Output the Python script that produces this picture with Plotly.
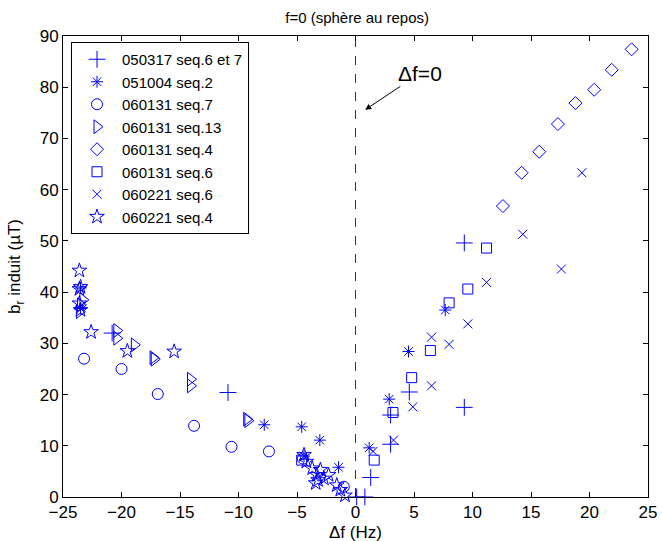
import plotly.graph_objects as go

names = ["050317 seq.6 et 7", "051004 seq.2", "060131 seq.7", "060131 seq.13",
         "060131 seq.4", "060131 seq.6", "060221 seq.6", "060221 seq.4"]

plus_x = [-20.8, -10.9, 0.1, 0.8, 1.3, 3.0, 3.0, 4.6, 9.3, 9.3]
plus_y = [32.0, 20.4, 0.0, 0.0, 3.8, 10.3, 16.0, 20.5, 49.6, 17.5]

ast_x = [-23.5, -23.5, -7.8, -4.6, -4.4, -3.05, -1.45, 1.17, 2.88, 4.53, 7.67]
ast_y = [40.8, 36.8, 14.1, 13.7, 8.0, 11.1, 5.8, 9.6, 19.1, 28.4, 36.5]

circ_x = [-23.2, -20.0, -16.9, -13.8, -10.6, -7.4, -4.5, -1.0]
circ_y = [27.0, 25.0, 20.1, 13.9, 9.8, 8.9, 7.5, 2.0]

tri_x = [-23.6, -23.5, -23.3, -20.4, -20.4, -18.9, -17.3, -17.2, -14.1, -14.1, -9.3, -9.2]
tri_y = [36.2, 37.5, 38.5, 32.5, 31.0, 29.7, 27.2, 26.9, 23.0, 21.7, 15.2, 14.9]

dia_x = [12.6, 14.2, 15.7, 17.3, 18.8, 20.4, 21.9, 23.6]
dia_y = [56.8, 63.3, 67.4, 72.8, 76.9, 79.5, 83.4, 87.4]

sq_x = [-4.6, 1.6, 3.2, 4.8, 6.4, 8.0, 9.6, 11.2]
sq_y = [7.2, 7.2, 16.5, 23.3, 28.6, 37.9, 40.6, 48.6]

xm_x = [1.5, 3.25, 4.9, 6.5, 6.5, 8.0, 9.6, 11.2, 14.3, 17.6, 19.35]
xm_y = [8.9, 11.1, 17.6, 21.7, 31.2, 29.8, 33.8, 41.9, 51.3, 44.5, 63.3]

star_x = [-23.6, -23.6, -23.5, -23.6, -23.5, -22.6, -19.5, -15.5, -4.4, -4.2, -3.7,
          -3.4, -3.3, -3.2, -3.0, -2.7, -2.3, -1.6, -1.3, -0.9]
star_y = [44.2, 40.6, 41.0, 37.8, 36.5, 32.2, 28.5, 28.4, 8.2, 6.9, 5.6,
          2.7, 4.3, 3.3, 5.3, 3.6, 4.3, 2.3, 1.4, 0.3]

series = [
    (plus_x, plus_y, "cross-thin-open", 12),
    (ast_x, ast_y, "asterisk-open", 10),
    (circ_x, circ_y, "circle-open", 11),
    (tri_x, tri_y, "triangle-right-open", 12),
    (dia_x, dia_y, "diamond-open", 10),
    (sq_x, sq_y, "square-open", 10),
    (xm_x, xm_y, "x-thin-open", 9),
    (star_x, star_y, "star-open", 11),
]

blue = "rgb(0,0,255)"
fig = go.Figure()
for name, (xs, ys, sym, sz) in zip(names, series):
    fig.add_trace(go.Scatter(
        x=xs, y=ys, mode="markers", name=name, cliponaxis=False, hoverinfo="skip",
        marker=dict(symbol=sym, size=sz, color=blue, line=dict(color=blue, width=1)),
    ))

fig.add_shape(type="line", x0=0, x1=0, y0=0, y1=90, xref="x", yref="y",
              line=dict(color="#333333", width=1, dash="dash"), layer="below")

fig.add_annotation(x=0.83, y=75.6, ax=5.5, ay=82.7, xref="x", yref="y",
                   axref="x", ayref="y", text="Δf=0", showarrow=True,
                   arrowhead=2, arrowsize=1.2, arrowwidth=1, arrowcolor="black",
                   font=dict(size=21, color="black"))

fig.add_annotation(x=0.5, y=-0.076, xref="x domain", yref="y domain", text="Δf (Hz)",
                   showarrow=False, xanchor="center", yanchor="middle",
                   font=dict(size=17, color="black"))

axis_common = dict(showline=True, linecolor="black", linewidth=1, mirror="ticks",
                   ticks="inside", ticklen=5, tickcolor="black", showgrid=False,
                   zeroline=False, automargin=False, tickfont=dict(size=17, color="black"))

fig.update_xaxes(range=[-25, 25], tickvals=[-25, -20, -15, -10, -5, 0, 5, 10, 15, 20, 25],
                 ticktext=["−25", "−20", "−15", "−10", "−5", "0", "5", "10", "15", "20", "25"],
                 **axis_common)
fig.update_yaxes(range=[0, 90], tickvals=list(range(0, 91, 10)),
                 title=dict(text="b<sub>r</sub> induit (µT)", font=dict(size=17, color="black"), standoff=14),
                 **axis_common)

fig.update_layout(
    width=662, height=541,
    margin=dict(l=63, r=14, t=36, b=44, autoexpand=False),
    paper_bgcolor="white", plot_bgcolor="white",
    hovermode=False,
    font=dict(family="Liberation Sans, Arial, sans-serif", color="black"),
    title=dict(text="f=0 (sphère au repos)", x=0.5395, xanchor="center", y=0.967, yanchor="middle",
               font=dict(size=15, color="black")),
    legend=dict(x=0.0137, y=0.987, xanchor="left", yanchor="top",
                bordercolor="black", borderwidth=1, bgcolor="white", itemwidth=40,
                font=dict(size=15, color="black"), tracegroupgap=0),
    showlegend=True,
)

fig.write_html("out.html", config={"staticPlot": True, "displayModeBar": False})
